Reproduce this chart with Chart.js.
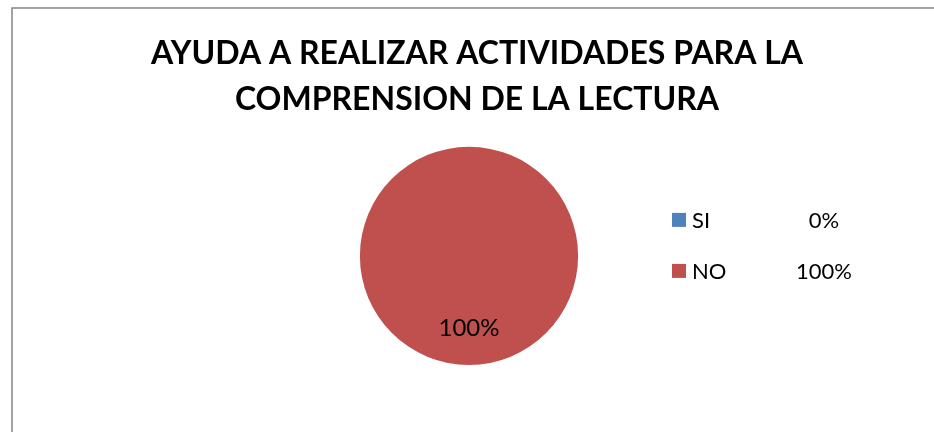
<!DOCTYPE html>
<html lang="es">
<head>
  <meta charset="UTF-8" />
  <title>Ayuda a realizar actividades</title>
  <script src="https://cdn.jsdelivr.net/npm/chart.js"></script>
  <style>
    html, body {
      margin: 0;
      padding: 0;
      background: #ffffff;
    }
    #wrap {
      width: 934px;
      height: 432px;
    }
  </style>
</head>
<body>
  <div id="wrap"><canvas id="pieChart" width="934" height="432"></canvas></div>

  <script>
    const labels = ["SI", "NO"];
    const values = [0, 100];
    const percentLabels = ["0%", "100%"];
    const colors = ["#4F81BD", "#C0504D"];
    const titleLines = ["AYUDA A REALIZAR ACTIVIDADES PARA LA", "COMPRENSION DE LA LECTURA"];

    const FONT = "Lato, 'Open Sans', sans-serif";

    // marco gris del gráfico (borde izquierdo y superior)
    const framePlugin = {
      id: "frame",
      beforeDraw(chart) {
        const ctx = chart.ctx;
        ctx.save();
        ctx.strokeStyle = "#8c8c8c";
        ctx.lineWidth = 1.6;
        ctx.strokeRect(12, 8, chart.width + 20, chart.height + 20);
        ctx.restore();
      },
    };

    // espacio a la derecha para que el título y el pastel no queden centrados igual
    const spacerPlugin = {
      id: "spacer",
      beforeInit(chart) {
        const box = {
          position: "right",
          weight: 0,
          fullSize: false,
          options: {},
          width: 0,
          height: 0,
          isHorizontal() { return false; },
          update(maxWidth, maxHeight) {
            this.width = 16;
            this.height = maxHeight;
          },
          draw() {},
        };
        Chart.layouts.addBox(chart, box);
      },
    };

    // etiquetas de datos dentro del sector
    const dataLabelPlugin = {
      id: "dataLabels",
      afterDatasetsDraw(chart) {
        const ctx = chart.ctx;
        const meta = chart.getDatasetMeta(0);
        ctx.save();
        ctx.font = "24px " + FONT;
        ctx.fillStyle = "#000000";
        ctx.textAlign = "center";
        ctx.textBaseline = "middle";
        meta.data.forEach((arc, i) => {
          if (!values[i]) return;
          const p = arc.getProps(["x", "y", "startAngle", "endAngle", "outerRadius"], true);
          const mid = (p.startAngle + p.endAngle) / 2;
          const r = p.outerRadius * 0.66;
          ctx.fillText(percentLabels[i], p.x + Math.cos(mid) * r, p.y + Math.sin(mid) * r);
        });
        ctx.restore();
      },
    };

    // leyenda con columna de porcentajes
    const legendPlugin = {
      id: "sideLegend",
      afterDraw(chart) {
        const ctx = chart.ctx;
        const area = chart.chartArea;
        const cx = (area.left + area.right) / 2;
        const cy = (area.top + area.bottom) / 2;
        const x0 = cx + 203;
        const y0 = cy - 36;
        const rowGap = 51;
        ctx.save();
        ctx.font = "22px " + FONT;
        ctx.textBaseline = "middle";
        labels.forEach((lab, i) => {
          const y = y0 + i * rowGap;
          ctx.fillStyle = colors[i];
          ctx.fillRect(x0, y - 7, 14, 14);
          ctx.fillStyle = "#000000";
          ctx.textAlign = "left";
          ctx.fillText(lab, x0 + 20, y + 1);
          ctx.textAlign = "center";
          ctx.fillText(percentLabels[i], x0 + 152, y + 1);
        });
        ctx.restore();
      },
    };

    new Chart(document.getElementById("pieChart"), {
      type: "pie",
      data: {
        labels: labels,
        datasets: [
          {
            data: values,
            backgroundColor: colors,
            borderWidth: 0,
          },
        ],
      },
      options: {
        responsive: false,
        animation: false,
        layout: {
          padding: { left: 20, right: 0, top: 10, bottom: 67 },
        },
        plugins: {
          legend: { display: false },
          tooltip: { enabled: false },
          title: {
            display: true,
            text: titleLines,
            color: "#000000",
            font: { family: FONT, size: 32, weight: "bold", lineHeight: 1.45 },
            padding: { top: 20, bottom: 24 },
          },
        },
      },
      plugins: [framePlugin, spacerPlugin, dataLabelPlugin, legendPlugin],
    });
  </script>
</body>
</html>
